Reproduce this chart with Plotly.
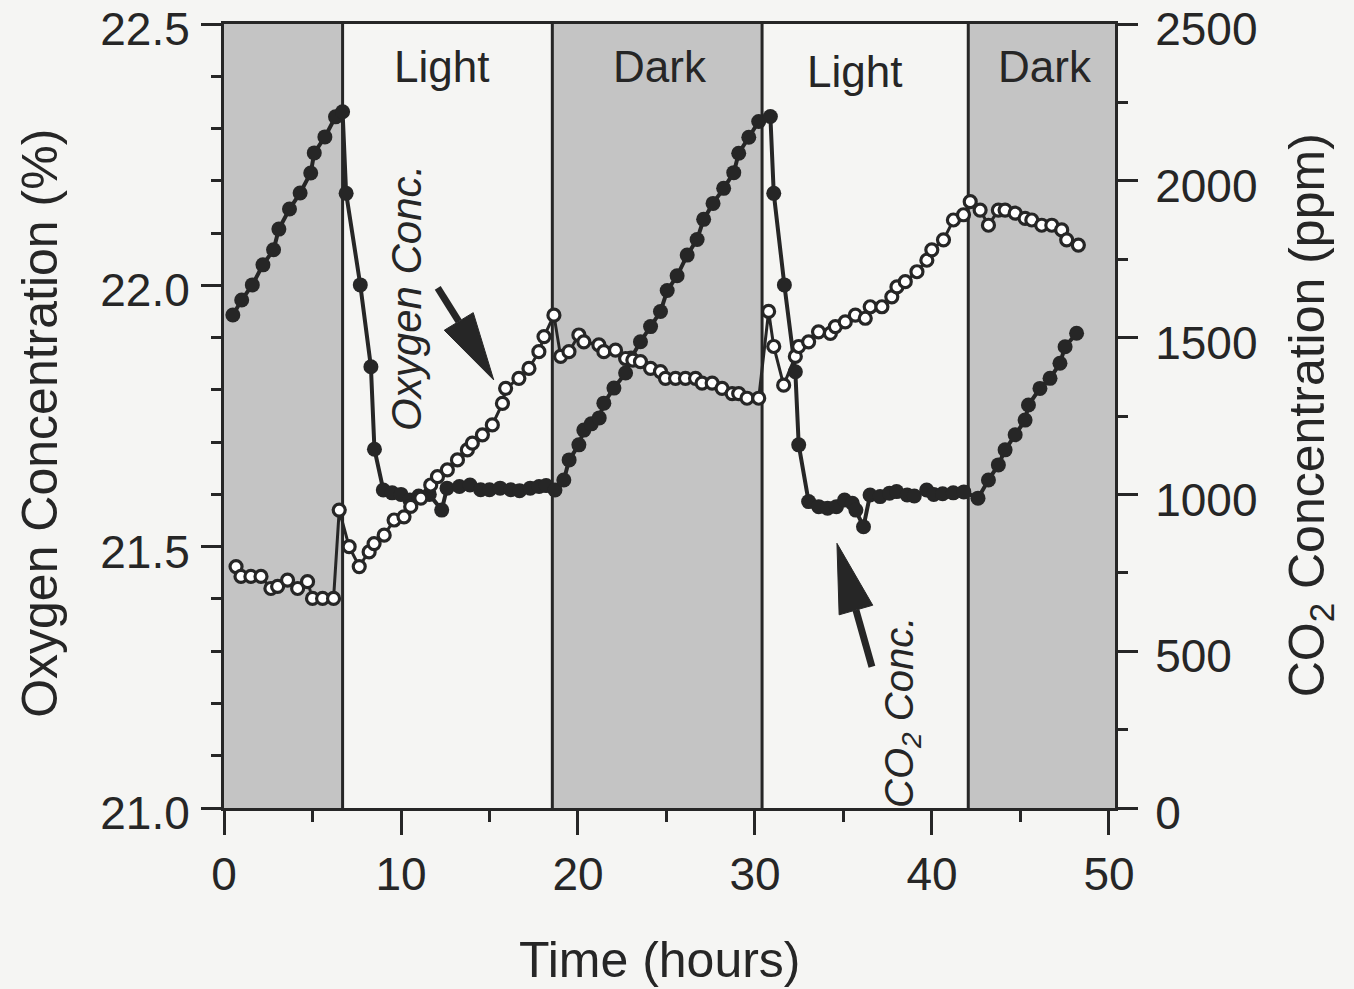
import plotly.graph_objects as go

# ---- data ----
co2_time = [0.5, 1.0, 1.6, 2.2, 2.8, 3.1, 3.7, 4.3, 4.9, 5.1, 5.7, 6.3, 6.7,
            6.9, 7.7, 8.3, 8.5, 9.0, 9.5, 10.0, 10.5, 11.0, 11.6, 12.3, 12.6, 13.3, 13.9,
            14.5, 15.0, 15.6, 16.2, 16.7, 17.3, 17.8, 18.2, 18.7,
            19.2, 19.5, 20.05, 20.33, 20.75, 21.2, 21.46, 22.03, 22.69, 23.0, 23.53, 24.1,
            24.66, 25.04, 25.6, 26.17, 26.73, 27.1, 27.63, 28.23, 28.8, 29.08, 29.65,
            30.21, 30.87,
            31.06, 31.66, 32.28, 32.47, 33.03, 33.6, 34.1, 34.6, 35.06, 35.5, 35.7, 36.13,
            36.5, 37.07, 37.6, 38.0, 38.6, 39.0, 39.7, 40.1, 40.6, 41.2, 41.8, 42.6,
            43.19, 43.75, 44.13, 44.7, 45.26, 45.45, 46.1, 46.67, 47.23, 47.52, 48.17]
co2_ppm = [1572, 1620, 1668, 1732, 1780, 1846, 1910, 1961, 2025, 2089, 2140, 2204, 2220,
           1960, 1668, 1407, 1144, 1014, 1005, 1000, 982, 995, 1000, 950, 1020, 1025, 1030,
           1015, 1015, 1020, 1015, 1012, 1020, 1025, 1028, 1014,
           1046, 1110, 1158, 1205, 1225, 1244, 1291, 1339, 1387, 1435, 1487, 1535,
           1583, 1650, 1697, 1763, 1813, 1877, 1928, 1976, 2026, 2088, 2139,
           2189, 2205,
           1960, 1668, 1391, 1158, 977, 961, 956, 961, 982, 972, 950, 897,
           998, 993, 1004, 1009, 998, 995, 1014, 1000, 1002, 1005, 1008, 988,
           1046, 1094, 1142, 1190, 1237, 1285, 1338, 1370, 1418, 1471, 1514]

o2_time = [0.68, 0.96, 1.52, 2.09, 2.65, 3.03, 3.59, 4.16, 4.72, 5.0, 5.57, 6.19,
           6.51, 7.07, 7.64, 8.2, 8.48, 9.05, 9.61, 10.17, 10.55, 11.12, 11.68, 12.06,
           12.62, 13.19, 13.75, 14.03, 14.6, 15.16, 15.73, 15.91, 16.66, 17.23, 17.79,
           18.08, 18.64,
           19.02, 19.49, 20.05, 20.33, 21.18, 21.46, 22.12, 22.69, 23.1, 23.53, 24.1,
           24.66, 24.94, 25.51, 26.07, 26.64, 27.01, 27.58, 28.14, 28.71, 29.08, 29.55,
           30.21,
           30.77, 31.06, 31.62, 32.28, 32.47, 33.03, 33.59, 34.26, 34.54, 35.1, 35.67,
           36.23, 36.51, 37.17, 37.73, 38.02, 38.49, 39.15, 39.71, 39.99, 40.65, 41.21,
           41.78, 42.16, 42.72, 43.19, 43.75, 44.13, 44.7, 45.26, 45.64, 46.2, 46.77,
           47.33, 47.61, 48.27]
o2_pct = [21.462, 21.443, 21.443, 21.443, 21.420, 21.424, 21.436, 21.420, 21.433, 21.401, 21.401, 21.401,
          21.570, 21.500, 21.462, 21.490, 21.506, 21.522, 21.551, 21.557, 21.577, 21.593, 21.618, 21.634,
          21.647, 21.666, 21.685, 21.698, 21.714, 21.733, 21.774, 21.803, 21.822, 21.841, 21.873,
          21.902, 21.943,
          21.864, 21.873, 21.905, 21.892, 21.886, 21.873, 21.876, 21.860, 21.857, 21.854, 21.841,
          21.835, 21.822, 21.822, 21.822, 21.822, 21.813, 21.813, 21.803, 21.793, 21.793, 21.784,
          21.784,
          21.950, 21.883, 21.809, 21.864, 21.883, 21.892, 21.911, 21.908, 21.921, 21.930, 21.943,
          21.937, 21.959, 21.959, 21.978, 21.997, 22.007, 22.026, 22.048, 22.068, 22.087, 22.125,
          22.135, 22.160, 22.144, 22.115, 22.144, 22.144, 22.138, 22.128, 22.125, 22.115, 22.115,
          22.106, 22.087, 22.077]

# light / dark periods (hours)
dark_periods = [(0.0, 6.7), (18.55, 30.4), (42.05, 50.34)]
period_bounds = [6.7, 18.55, 30.4, 42.05]
period_labels = ["Light", "Dark", "Light", "Dark"]
period_label_x = [12.29, 24.63, 35.65, 46.37]
period_label_y = [0.946, 0.946, 0.939, 0.946]

x_ticks = [0, 10, 20, 30, 40, 50]
o2_ticks = [21.0, 21.5, 22.0, 22.5]
co2_ticks = [0, 500, 1000, 1500, 2000, 2500]

INK = "#262626"
BG = "#f5f5f3"
GRAY = "#c4c4c4"
FONT = "Liberation Sans, Arial, Helvetica, sans-serif"

fig = go.Figure()

# CO2 (filled circles) on axis 'y' (shown at right)
fig.add_trace(go.Scatter(
    x=co2_time, y=co2_ppm, yaxis="y", mode="lines+markers",
    line=dict(color=INK, width=4),
    marker=dict(symbol="circle", size=15, color=INK, line=dict(width=0)),
    showlegend=False, name="CO2"))

# O2 (open circles) on axis 'y2' (shown at left)
fig.add_trace(go.Scatter(
    x=o2_time, y=o2_pct, yaxis="y2", mode="lines+markers",
    line=dict(color=INK, width=3),
    marker=dict(symbol="circle", size=12, color="white", line=dict(color=INK, width=3.2)),
    showlegend=False, name="O2"))

shapes = []
for a, b in dark_periods:
    shapes.append(dict(type="rect", xref="x", yref="paper", x0=a, x1=b, y0=0, y1=1,
                       fillcolor=GRAY, line=dict(width=0), layer="below"))
for xb in period_bounds:
    shapes.append(dict(type="line", xref="x", yref="paper", x0=xb, x1=xb, y0=0, y1=1,
                       line=dict(color=INK, width=3), layer="below"))


def arrow(x_tip, y_tip, yref, tail, c1, c2):
    """Arrow drawn in pixel offsets (screen-up positive) from a data-anchored tip."""
    base = ((c1[0] + c2[0]) / 2, (c1[1] + c2[1]) / 2)
    common = dict(xref="x", yref=yref, xsizemode="pixel", ysizemode="pixel",
                  xanchor=x_tip, yanchor=y_tip, layer="above")
    shaft = dict(type="path", path=f"M{tail[0]},{tail[1]} L{base[0]},{base[1]}",
                 line=dict(color=INK, width=7), **common)
    head = dict(type="path", path=f"M0,0 L{c1[0]},{c1[1]} L{c2[0]},{c2[1]} Z",
                fillcolor=INK, line=dict(color=INK, width=1), **common)
    return [shaft, head]


shapes += arrow(15.24, 21.819, "y2", (-56, 92), (-49.5, 49.7), (-20.5, 67.3))
shapes += arrow(34.63, 844, "y", (35, -123.4), (2.2, -71.5), (35.8, -61.9))

annotations = []
for lab, lx, ly in zip(period_labels, period_label_x, period_label_y):
    annotations.append(dict(text=lab, x=lx, y=ly, xref="x", yref="paper",
                            showarrow=False, font=dict(size=44, color=INK, family=FONT),
                            xanchor="center", yanchor="middle"))

annotations.append(dict(text="<i>Oxygen Conc.</i>", x=10.34, y=21.976, xref="x", yref="y2",
                        showarrow=False, textangle=-90,
                        font=dict(size=42, color=INK, family=FONT)))
annotations.append(dict(text="<i>CO<sub>2</sub> Conc.</i>", x=38.3, y=306, xref="x", yref="y",
                        showarrow=False, textangle=-90,
                        font=dict(size=40, color=INK, family=FONT)))

# axis titles
annotations.append(dict(text="Oxygen Concentration (%)", x=-0.2065, y=0.49, xref="paper", yref="paper",
                        showarrow=False, textangle=-90, xanchor="center", yanchor="middle",
                        font=dict(size=50, color=INK, family=FONT)))
annotations.append(dict(text="CO<sub>2</sub> Concentration (ppm)", x=1.219, y=0.501, xref="paper",
                        yref="paper", showarrow=False, textangle=-90, xanchor="center",
                        yanchor="middle", font=dict(size=50, color=INK, family=FONT)))
annotations.append(dict(text="Time (hours)", x=0.489, y=-0.194, xref="paper", yref="paper",
                        showarrow=False, xanchor="center", yanchor="middle",
                        font=dict(size=50, color=INK, family=FONT)))

axis_common = dict(showgrid=False, zeroline=False, showline=True, linewidth=3,
                   linecolor=INK, ticks="outside", tickwidth=3, tickcolor=INK,
                   ticklabeloverflow="allow", automargin=False,
                   tickfont=dict(size=46, color=INK, family=FONT))

fig.update_layout(
    width=1354, height=989, autosize=False,
    margin=dict(l=224, r=239, t=24, b=181, autoexpand=False),
    paper_bgcolor=BG, plot_bgcolor=BG,
    shapes=shapes, annotations=annotations,
    xaxis=dict(range=[0, 50.34], tickvals=x_ticks, ticklen=24, mirror=True,
               minor=dict(tickvals=[5, 15, 25, 35, 45], ticklen=11, tickwidth=3,
                          tickcolor=INK, ticks="outside"),
               **axis_common),
    yaxis=dict(range=[0, 2500], side="right", tickvals=co2_ticks, ticklen=20,
               ticklabelshift=5, ticklabelstandoff=8,
               minor=dict(dtick=250, ticklen=10, tickwidth=3, tickcolor=INK, ticks="outside"),
               **axis_common),
    yaxis2=dict(range=[21.0, 22.5], side="left", overlaying="y", tickvals=o2_ticks,
                tickformat=".1f", ticklen=20, ticklabelshift=5, ticklabelstandoff=2,
                minor=dict(dtick=0.1, ticklen=10, tickwidth=3, tickcolor=INK, ticks="outside"),
                **axis_common),
)

fig.write_html("out.html", config={"displayModeBar": False},
               post_script="document.body.style.margin='0';document.body.style.overflow='hidden';")
